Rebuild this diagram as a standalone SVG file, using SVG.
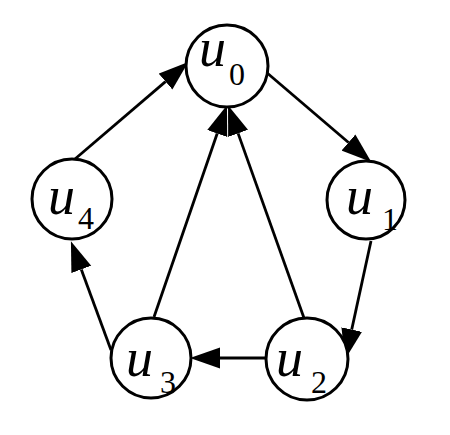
<svg xmlns="http://www.w3.org/2000/svg" width="450" height="435" viewBox="0 0 450 435">
<style>
.node{fill:#fff;stroke:#000;stroke-width:3}
.edge{stroke:#000;stroke-width:2.8;fill:none;marker-end:url(#ah)}
.u{font-family:"Liberation Serif",serif;font-style:italic;font-size:54px;fill:#000}
.s{font-family:"Liberation Serif",serif;font-size:32px;fill:#000}
</style>
<defs>
<marker id="ah" markerUnits="userSpaceOnUse" markerWidth="30" markerHeight="22" viewBox="0 0 27 19" refX="0" refY="9.5" orient="auto">
<path d="M0,0 L27,9.5 L0,19 z" fill="#000"/>
</marker>
</defs>
<rect width="450" height="435" fill="#fff"/>
<g id="connectors">
<line class="edge" x1="75" y1="159" x2="165.5" y2="81.6"/>
<line class="edge" x1="266" y1="72" x2="348.5" y2="142.5"/>
<line class="edge" x1="371" y1="241" x2="351.7" y2="329.6"/>
<line class="edge" x1="265" y1="358" x2="220" y2="358"/>
<line class="edge" x1="111" y1="350" x2="81.3" y2="269.4"/>
<line class="edge" x1="154" y1="317" x2="217.2" y2="133.5"/>
<line class="edge" x1="304" y1="318" x2="238.1" y2="133.4"/>
</g>
<g id="u0"><circle class="node" cx="227" cy="66" r="41"/><text class="u" x="199" y="66">u</text><text class="s" x="229" y="85">0</text></g>
<g id="u1"><circle class="node" cx="366" cy="200" r="39"/><text class="u" x="346" y="214">u</text><text class="s" x="382" y="230">1</text></g>
<g id="u2"><circle class="node" cx="307" cy="359" r="41"/><text class="u" x="276" y="376">u</text><text class="s" x="311" y="393">2</text></g>
<g id="u3"><circle class="node" cx="151" cy="358" r="40"/><text class="u" x="126" y="376">u</text><text class="s" x="160" y="393">3</text></g>
<g id="u4"><circle class="node" cx="72" cy="199" r="40"/><text class="u" x="48" y="214">u</text><text class="s" x="78" y="229">4</text></g>
</svg>
